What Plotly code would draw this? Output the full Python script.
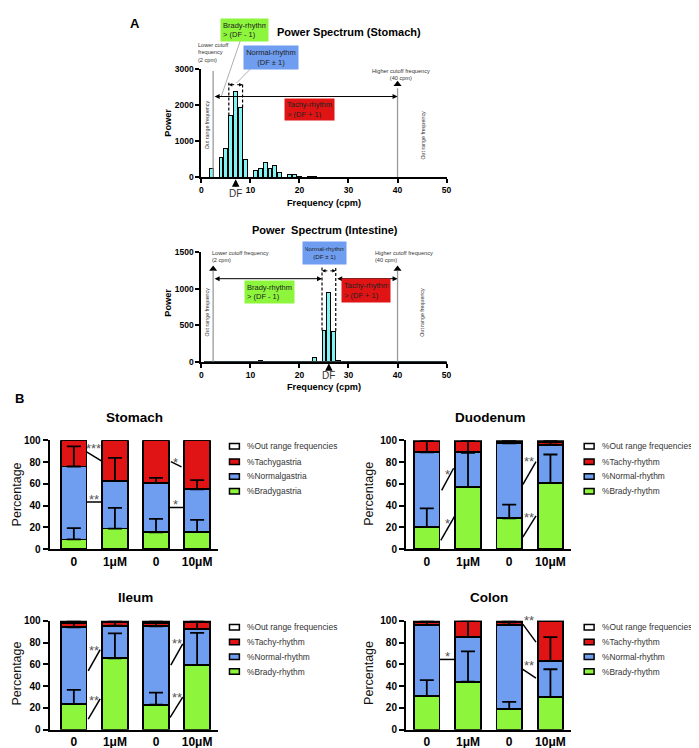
import plotly.graph_objects as go

W, H = 699, 748
FONT = "Liberation Sans, Arial, Helvetica, sans-serif"

# ---------------- Panel A data ----------------
freq = list(range(1, 51))
stomach_power = [0, 230, 0, 540, 800, 1710, 2370, 1930, 490, 0,
                 180, 250, 400, 240, 310, 140, 0, 65, 60, 20,
                 0, 10, 10, 0, 0, 0, 0, 0, 0, 0,
                 0, 0, 0, 0, 0, 0, 0, 0, 0, 0,
                 0, 0, 0, 0, 0, 0, 0, 0, 0, 0]
intestine_power = [4, 5, 4, 3, 4, 3, 3, 4, 6, 4,
                   3, 10, 5, 4, 3, 3, 4, 5, 5, 4,
                   3, 4, 54, 3, 427, 946, 419, 20, 4, 3,
                   3, 4, 3, 3, 4, 3, 3, 3, 4, 3,
                   3, 3, 3, 4, 3, 3, 3, 3, 3, 3]
stomach_df = 7
intestine_df = 26
low_cutoff = 2.4
high_cutoff = 40
freq_ticks = [0, 10, 20, 30, 40, 50]

# ---------------- Panel B data ----------------
conditions = ["0", "1μM", "0", "10μM"]

stomach_brady = [9, 19, 15.5, 16]
stomach_normal = [67, 43.5, 45.5, 39]
stomach_tachy = [24, 37.5, 39, 45]
stomach_out = [0, 0, 0, 0]
stomach_brady_err = [10.5, 19, 12.5, 11]
stomach_normal_err = [18.5, 21.5, 4.5, 8.5]

duodenum_brady = [20.5, 57, 28.5, 61]
duodenum_normal = [68.5, 32.5, 68.8, 35]
duodenum_tachy = [10, 9.5, 1.5, 2.5]
duodenum_out = [1, 1, 1.2, 1.5]
duodenum_brady_err = [17, 31.5, 12.5, 26]
duodenum_normal_err = [11, 10.5, 2.7, 4]

ileum_brady = [23.5, 65.5, 23, 59.5]
ileum_normal = [70.5, 30, 72, 33]
ileum_tachy = [4, 3, 3, 6]
ileum_out = [2, 1.5, 2, 1.5]
ileum_brady_err = [13, 23, 11, 29.5]
ileum_normal_err = [6, 4.5, 5, 7.5]

colon_brady = [31, 44, 19, 30]
colon_normal = [65, 41, 77.4, 33]
colon_tachy = [2.5, 14.5, 2.1, 36.5]
colon_out = [1.5, 0.5, 1.5, 0.5]
colon_brady_err = [14.5, 28, 6.5, 25.5]
colon_normal_err = [4, 15, 3.6, 22]

# significance marks: (x0, y0, x1, y1, label, label_x, label_y)
stomach_sig = [(0.31, 89.5, 0.68, 81.0, "***", 0.49, 95.5),
               (0.31, 43.4, 0.68, 43.4, "**", 0.49, 48.8),
               (2.36, 80.4, 2.62, 75.6, "*", 2.47, 82.8),
               (2.31, 38.3, 2.69, 38.3, "*", 2.47, 44.3)]
duodenum_sig = [(0.36, 54.0, 0.65, 74.4, "*", 0.50, 71.4),
                (0.34, 8.1, 0.68, 30.7, "*", 0.50, 26.2),
                (2.33, 59.3, 2.65, 80.4, "**", 2.48, 83.4),
                (2.33, 11.1, 2.65, 30.7, "**", 2.48, 32.2)]
ileum_sig = [(0.35, 53.9, 0.64, 73.5, "**", 0.49, 75.9),
             (0.35, 9.6, 0.64, 28.3, "**", 0.49, 29.8),
             (2.36, 59.3, 2.65, 78.9, "**", 2.50, 81.9),
             (2.34, 11.1, 2.65, 29.8, "**", 2.50, 32.2)]
colon_sig = [(0.31, 64.5, 0.70, 64.5, "*", 0.50, 69.9),
             (2.33, 97.0, 2.65, 80.4, "**", 2.49, 103.0),
             (2.33, 55.4, 2.65, 47.3, "**", 2.49, 61.4)]

stomach_labels = ["%Out range frequencies", "%Tachygastria", "%Normalgastria", "%Bradygastria"]
intestine_labels = ["%Out range frequencies", "%Tachy-rhythm", "%Normal-rhythm", "%Brady-rhythm"]

# ---------------- styles ----------------
GREEN = "#8cf53c"
BLUE = "#6f9ef0"
RED = "#e01414"
WHITE = "#ffffff"
CYAN = "#80f3f3"
GREY = "#9a9a9a"


def px(x):
    return x / W


def py(y):
    return 1 - y / H


fig = go.Figure()
shapes = []
annotations = []

# ---------------- Panel A ----------------
spec_panels = [
    dict(ax="x", ay="y", power=stomach_power, df=stomach_df, ytop=56, ybot=165.7,
         ymax=3000, dtick=1000, arrow_y=2238, df_arrow_y=2567, dash_top=2620,
         cut_top_low=2950, cut_top_high=2470, tri_low=3005, tri_high=2580,
         split=False, df_head=168, df_off=14),
    dict(ax="x2", ay="y2", power=intestine_power, df=intestine_df, ytop=242.3, ybot=353.3,
         ymax=1500, dtick=500, arrow_y=1139, df_arrow_y=1247, dash_top=1315,
         cut_top_low=1250, cut_top_high=1250, tri_low=1271, tri_high=1271,
         split=True, df_head=355, df_off=12),
]

for i, sp in enumerate(spec_panels):
    fig.add_trace(go.Bar(x=freq, y=sp["power"], width=0.8, xaxis=sp["ax"], yaxis=sp["ay"],
                         marker=dict(color=CYAN, line=dict(color="black", width=1)),
                         showlegend=False, hoverinfo="skip"))
    # cutoff lines
    for xc, top in [(low_cutoff, sp["cut_top_low"]), (high_cutoff, sp["cut_top_high"])]:
        shapes.append(dict(type="line", xref=sp["ax"], yref=sp["ay"], x0=xc, x1=xc, y0=0, y1=top,
                           line=dict(color=GREY, width=1.3)))
    fig.add_trace(go.Scatter(x=[low_cutoff, high_cutoff], y=[sp["tri_low"], sp["tri_high"]],
                             xaxis=sp["ax"], yaxis=sp["ay"], mode="markers", cliponaxis=False,
                             marker=dict(symbol="triangle-up", size=7, color="black"),
                             showlegend=False, hoverinfo="skip"))
    df = sp["df"]
    lo_edge = df - 1 - 0.4
    hi_edge = df + 1 + 0.4
    left_top = sp["power"][df - 2]
    right_top = sp["power"][df]
    shapes.append(dict(type="line", xref=sp["ax"], yref=sp["ay"], x0=lo_edge, x1=lo_edge,
                       y0=left_top, y1=sp["dash_top"], line=dict(color="black", width=1.2, dash="3px,2px")))
    shapes.append(dict(type="line", xref=sp["ax"], yref=sp["ay"], x0=hi_edge, x1=hi_edge,
                       y0=right_top, y1=sp["dash_top"], line=dict(color="black", width=1.2, dash="3px,2px")))
    # horizontal range arrows
    if sp["split"]:
        segs = [(low_cutoff, lo_edge), (hi_edge, high_cutoff)]
    else:
        segs = [(low_cutoff, high_cutoff)]
    for a, b in segs:
        annotations.append(dict(x=b, y=sp["arrow_y"], ax=a, ay=sp["arrow_y"], xref=sp["ax"], yref=sp["ay"],
                                axref=sp["ax"], ayref=sp["ay"], text="", showarrow=True,
                                arrowhead=2, arrowsize=1, arrowwidth=1, arrowside="end+start",
                                arrowcolor="black"))
    # DF +/- 1 arrows
    for tgt in (lo_edge, hi_edge):
        annotations.append(dict(x=tgt, y=sp["df_arrow_y"], ax=df, ay=sp["df_arrow_y"], xref=sp["ax"],
                                yref=sp["ay"], axref=sp["ax"], ayref=sp["ay"], text="", showarrow=True,
                                arrowhead=2, arrowsize=0.7, arrowwidth=1, arrowcolor="black"))
    # DF label with arrow
    annotations.append(dict(x=df, y=py(sp["df_head"]), xref=sp["ax"], yref="paper", text="DF",
                            showarrow=True, ax=0, ay=sp["df_off"], arrowhead=2, arrowsize=1,
                            arrowwidth=1.5, arrowcolor="black",
                            font=dict(family=FONT, size=10, color="#333")))

# axis layout for A
axis_common = dict(showgrid=False, zeroline=False, showline=True, linecolor="black", linewidth=1.8,
                   ticks="outside", ticklen=4, tickwidth=1.5, tickcolor="black")
layout_axes = {}
for i, sp in enumerate(spec_panels):
    xn = "xaxis" if i == 0 else "xaxis2"
    yn = "yaxis" if i == 0 else "yaxis2"
    layout_axes[xn] = dict(axis_common, domain=[px(193.3), px(441)], range=[0, 50], tickvals=freq_ticks,
                           anchor=sp["ay"], tickfont=dict(family=FONT, size=8.5, weight="bold", color="black"))
    layout_axes[yn] = dict(axis_common, domain=[py(sp["ybot"]), py(sp["ytop"])], range=[0, sp["ymax"]],
                           dtick=sp["dtick"], anchor=sp["ax"],
                           tickfont=dict(family=FONT, size=8.5, weight="bold", color="black"))


def text_ann(x, y, text, size, color="#222", bold=False, angle=0, xanchor="center", align="center", **kw):
    d = dict(x=px(x), y=py(y), xref="paper", yref="paper", text=text, showarrow=False,
             xanchor=xanchor, yanchor="middle", align=align, textangle=angle,
             font=dict(family=FONT, size=size, color=color, weight="bold" if bold else "normal"))
    d.update(kw)
    return d


def box_ann(x0, x1, y0, y1, text, bg, align="left", size=7.5):
    return dict(x=px((x0 + x1) / 2), y=py((y0 + y1) / 2), xref="paper", yref="paper", text=text,
                showarrow=False, xanchor="center", yanchor="middle", align=align, valign="middle",
                width=x1 - x0 - 4, height=y1 - y0 - 4, borderpad=2, bgcolor=bg,
                font=dict(family=FONT, size=size, color="#222"))


# Panel A texts
annotations += [
    text_ann(126, 10, "A", 13, color="black", bold=True),
    text_ann(342.5, 18.3, "Power Spectrum (Stomach)", 11, color="black", bold=True),
    text_ann(318, 220, "Power  Spectrum (Intestine)", 11, color="black", bold=True),
    text_ann(317, 192.3, "Frequency (cpm)", 9.2, color="black", bold=True),
    text_ann(317, 379.3, "Frequency (cpm)", 9.2, color="black", bold=True),
    text_ann(160, 110, "Power", 9.2, color="black", bold=True, angle=-90),
    text_ann(160, 293, "Power", 9.2, color="black", bold=True, angle=-90),
    text_ann(188, 39.5, "Lower cutoff<br>frequency<br>(2 cpm)", 5.6, color="#333", xanchor="left", align="left"),
    text_ann(395, 61, "Higher cutoff frequency<br>(40 cpm)", 5.6, color="#333"),
    text_ann(201.7, 246, "Lower cutoff frequency<br>(2 cpm)", 5.6, color="#333", xanchor="left", align="left"),
    text_ann(366.7, 246, "Higher cutoff frequency<br>(40 cpm)", 5.6, color="#333", xanchor="left", align="left"),
    text_ann(199, 113, "Out range frequency", 5.3, color="#333", angle=-90),
    text_ann(416.7, 123, "Out range frequency", 5.3, color="#333", angle=-90),
    text_ann(199.3, 303, "Out range frequency", 5.3, color="#333", angle=-90),
    text_ann(416.7, 303, "Out range frequency", 5.3, color="#333", angle=-90),
    box_ann(213, 260, 5, 27, "Brady-rhythm<br>&gt; (DF - 1)", GREEN),
    box_ann(237, 291, 33, 56, "Normal-rhythm<br>(DF ± 1)", BLUE, align="center"),
    box_ann(278, 327, 87, 108, "Tachy-rhythm<br>&gt; (DF + 1)", RED),
    box_ann(296, 339, 231.7, 253.3, "Normal-rhythm<br>(DF ± 1)", BLUE, align="center", size=6.2),
    box_ann(238, 287, 272, 294, "Brady-rhythm<br>&gt; (DF - 1)", GREEN),
    box_ann(335.7, 384, 270, 293, "Tachy-rhythm<br>&gt; (DF + 1)", RED),
]
# connector lines from labels
shapes += [
    dict(type="line", xref="paper", yref="paper", x0=px(232.7), y0=py(27), x1=px(213.3), y1=py(84),
         line=dict(color=GREY, width=0.8)),
    dict(type="line", xref="paper", yref="paper", x0=px(242.7), y0=py(56), x1=px(229), y1=py(70),
         line=dict(color=GREY, width=0.8)),
]

# ---------------- Panel B ----------------
positions = [0, 1, 2, 3]
b_panels = [
    dict(name="Stomach", n=3, brady=stomach_brady, normal=stomach_normal, tachy=stomach_tachy,
         out=stomach_out, be=stomach_brady_err, ne=stomach_normal_err, sig=stomach_sig,
         labels=stomach_labels, xdom=(40, 210), xr=(-0.59, 3.506), ydom=(433.3, 544),
         title=(126, 410), leg_x=221.7, leg_y=[439.3, 455, 470, 485], ylab=(7.3, 488)),
    dict(name="Duodenum", n=4, brady=duodenum_brady, normal=duodenum_normal, tachy=duodenum_tachy,
         out=duodenum_out, be=duodenum_brady_err, ne=duodenum_normal_err, sig=duodenum_sig,
         labels=intestine_labels, xdom=(400, 566.7), xr=(-0.505, 3.5), ydom=(433.3, 544),
         title=(485, 410), leg_x=580, leg_y=[439.3, 455, 470, 485], ylab=(363.3, 488)),
    dict(name="Ileum", n=5, brady=ileum_brady, normal=ileum_normal, tachy=ileum_tachy,
         out=ileum_out, be=ileum_brady_err, ne=ileum_normal_err, sig=ileum_sig,
         labels=intestine_labels, xdom=(40, 210), xr=(-0.59, 3.506), ydom=(616.7, 727.3),
         title=(127, 592.7), leg_x=221.7, leg_y=[623.3, 638.3, 653.3, 668.3], ylab=(7.3, 670)),
    dict(name="Colon", n=6, brady=colon_brady, normal=colon_normal, tachy=colon_tachy,
         out=colon_out, be=colon_brady_err, ne=colon_normal_err, sig=colon_sig,
         labels=intestine_labels, xdom=(400, 566.7), xr=(-0.505, 3.5), ydom=(616.7, 727.3),
         title=(484, 593.3), leg_x=580, leg_y=[623.3, 638.3, 653.3, 668.3], ylab=(363.3, 670)),
]

annotations.append(text_ann(10, 391, "B", 13, color="black", bold=True))

for p in b_panels:
    xa = "x%d" % p["n"]
    ya = "y%d" % p["n"]
    segs = [(p["brady"], GREEN), (p["normal"], BLUE), (p["tachy"], RED), (p["out"], WHITE)]
    for vals, col in segs:
        fig.add_trace(go.Bar(x=positions, y=vals, width=0.62, xaxis=xa, yaxis=ya, cliponaxis=False,
                             marker=dict(color=col, line=dict(color="black", width=1.8)),
                             showlegend=False, hoverinfo="skip"))
    # error bars drawn on top of the stacked segments (from each segment's top)
    brady_top = list(p["brady"])
    normal_top = [b + n for b, n in zip(p["brady"], p["normal"])]
    for tops, err in [(brady_top, p["be"]), (normal_top, p["ne"])]:
        fig.add_trace(go.Scatter(x=positions, y=tops, xaxis=xa, yaxis=ya, mode="markers",
                                 cliponaxis=False, marker=dict(size=1, opacity=0),
                                 error_y=dict(type="data", symmetric=False, array=err,
                                              arrayminus=[0] * len(err), color="black",
                                              thickness=1.8, width=7),
                                 showlegend=False, hoverinfo="skip"))
    y0d, y1d = py(p["ydom"][1]), py(p["ydom"][0])
    layout_axes["xaxis%d" % p["n"]] = dict(
        domain=[px(p["xdom"][0]), px(p["xdom"][1])], range=list(p["xr"]), anchor=ya,
        tickvals=positions, ticktext=conditions, showgrid=False, zeroline=False, showline=True,
        linecolor="black", linewidth=2, ticks="",
        tickfont=dict(family=FONT, size=12, weight="bold", color="black"))
    layout_axes["yaxis%d" % p["n"]] = dict(
        domain=[y0d, y1d], range=[0, 100], anchor=xa, dtick=20, showgrid=False, zeroline=False,
        showline=True, linecolor="black", linewidth=2, ticks="outside", ticklen=5, tickwidth=2,
        tickcolor="black", tickfont=dict(family=FONT, size=10, weight="bold", color="black"))

    def yp(v, a=y0d, b=y1d):
        return a + (b - a) * v / 100.0

    for x0, v0, x1, v1, lab, lx, ly in p["sig"]:
        shapes.append(dict(type="line", xref=xa, yref="paper", x0=x0, x1=x1, y0=yp(v0), y1=yp(v1),
                           line=dict(color="black", width=1.5)))
        annotations.append(dict(x=lx, y=yp(ly), xref=xa, yref="paper", text=lab, showarrow=False,
                                xanchor="center", yanchor="middle", yshift=-3,
                                font=dict(family=FONT, size=13, color="#555")))
    annotations.append(text_ann(p["title"][0], p["title"][1], p["name"], 13.5, color="black", bold=True))
    annotations.append(text_ann(p["ylab"][0], p["ylab"][1], "Percentage", 12.5, color="#111", angle=-90))
    # legend
    for yc, lab, col in zip(p["leg_y"], p["labels"], [WHITE, RED, BLUE, GREEN]):
        shapes.append(dict(type="rect", xref="paper", yref="paper", x0=px(p["leg_x"]),
                           x1=px(p["leg_x"] + 10), y0=py(yc + 2.8), y1=py(yc - 2.8),
                           fillcolor=col, line=dict(color="black", width=1.5)))
        annotations.append(text_ann(p["leg_x"] + 15.5, yc, lab, 8.4, color="#333", xanchor="left",
                                    align="left"))

fig.update_layout(
    width=W, height=H, margin=dict(l=0, r=0, t=0, b=0),
    paper_bgcolor="white", plot_bgcolor="white", barmode="stack", showlegend=False,
    font=dict(family=FONT, color="black"),
    shapes=shapes, annotations=annotations, **layout_axes)

fig.write_html("out.html")
